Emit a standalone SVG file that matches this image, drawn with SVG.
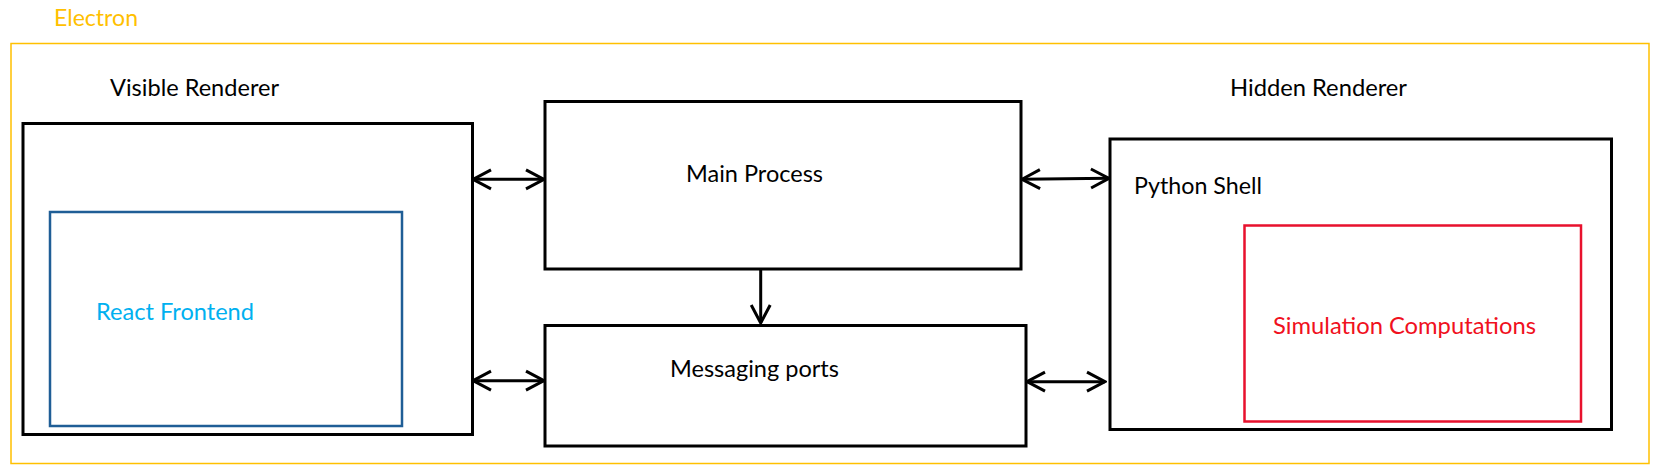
<svg xmlns="http://www.w3.org/2000/svg" width="1662" height="474" viewBox="0 0 1662 474">
<style>
text{font-family:Lato,"Liberation Sans",sans-serif;font-size:22.5px;fill:#000}
.box{fill:none;stroke:#000;stroke-width:3}
.conn{fill:none;stroke:#000;stroke-width:3}
</style>
<defs>
<marker id="chev" markerUnits="userSpaceOnUse" viewBox="-22 -12 24 24" refX="0" refY="0" markerWidth="24" markerHeight="24" orient="auto-start-reverse">
<path d="M-18,-9.5 L0,0 L-18,9.5" fill="none" stroke="#000" stroke-width="3" stroke-linejoin="miter"/>
</marker>
</defs>
<rect width="1662" height="474" fill="#fff"/>
<g id="electron">
<rect x="11" y="43.5" width="1638" height="420" fill="none" stroke="#FFC000" stroke-width="1.5"/>
<text x="54" y="26" textLength="84" lengthAdjust="spacingAndGlyphs" style="fill:#FFC000">Electron</text>
</g>
<g id="visible-renderer">
<rect class="box" x="23" y="123.5" width="449.5" height="311"/>
<text x="110" y="96" textLength="169" lengthAdjust="spacingAndGlyphs">Visible Renderer</text>
</g>
<g id="react-frontend">
<rect x="50" y="212" width="352" height="214" fill="none" stroke="#1F5E96" stroke-width="2.5"/>
<text x="96" y="320" textLength="158" lengthAdjust="spacingAndGlyphs" style="fill:#00B0F0">React Frontend</text>
</g>
<g id="main-process">
<rect class="box" x="545" y="101.5" width="476" height="167.5"/>
<text x="686" y="181.5" textLength="137" lengthAdjust="spacingAndGlyphs">Main Process</text>
</g>
<g id="messaging-ports">
<rect class="box" x="545" y="325.5" width="481" height="120.5"/>
<text x="670" y="376.5" textLength="169" lengthAdjust="spacingAndGlyphs">Messaging ports</text>
</g>
<g id="hidden-renderer">
<rect class="box" x="1110" y="139" width="501.5" height="290.5"/>
<text x="1230" y="96" textLength="177" lengthAdjust="spacingAndGlyphs">Hidden Renderer</text>
</g>
<g id="python-shell">
<text x="1134" y="194" textLength="128" lengthAdjust="spacingAndGlyphs">Python Shell</text>
</g>
<g id="simulation-computations">
<rect x="1244.5" y="225.5" width="336.5" height="196" fill="none" stroke="#E8112D" stroke-width="2.5"/>
<text x="1273" y="334" textLength="263" lengthAdjust="spacingAndGlyphs" style="fill:#F01020">Simulation Computations</text>
</g>
<g id="connectors">
<line class="conn" x1="473" y1="179.3" x2="544" y2="179.3" marker-start="url(#chev)" marker-end="url(#chev)"/>
<line class="conn" x1="473" y1="380.7" x2="544" y2="380.7" marker-start="url(#chev)" marker-end="url(#chev)"/>
<line class="conn" x1="1022" y1="179.3" x2="1109" y2="178.3" marker-start="url(#chev)" marker-end="url(#chev)"/>
<line class="conn" x1="1027" y1="381.7" x2="1105" y2="381.7" marker-start="url(#chev)" marker-end="url(#chev)"/>
<line class="conn" x1="760.7" y1="269" x2="760.7" y2="323" marker-end="url(#chev)"/>
</g>
</svg>
